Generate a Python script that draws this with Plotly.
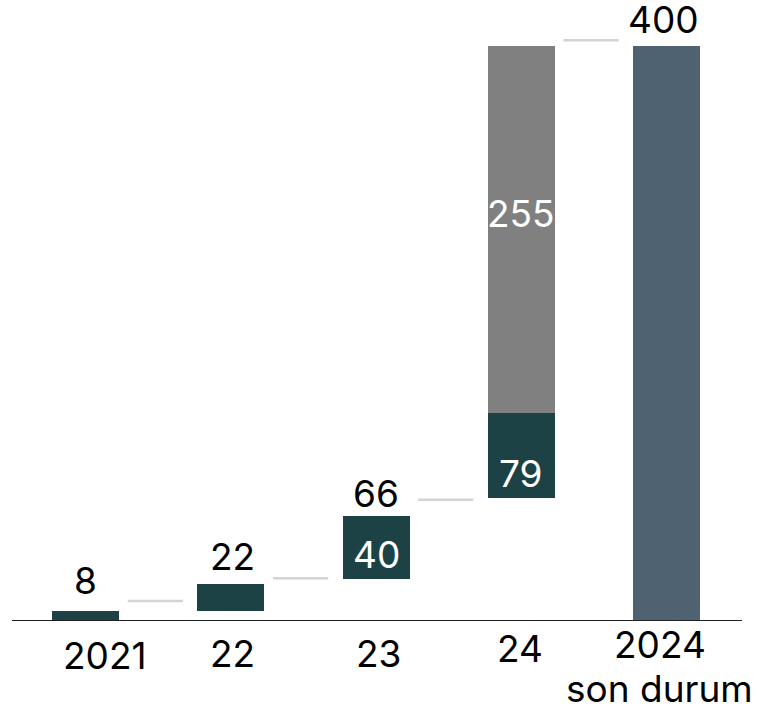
import plotly.graph_objects as go

# ---- data ----
categories = ["2021", "22", "23", "24", "2024<br>son durum"]

# bar segments (category index, start value, end value, kind)
seg_cat = [0, 1, 2, 3, 3, 4]
seg_start = [0, 7.2, 29.0, 85.7, 144.6, 0]
seg_end = [7.2, 25.7, 73.0, 144.6, 400, 400]
seg_kind = ["step", "step", "step", "step", "extra", "total"]

# value labels above bars
top_label_cat = [0, 1, 2, 4]
top_label_text = ["8", "22", "66", "400"]

# value labels inside bars (segment index, text)
inner_label_seg = [2, 3, 4]
inner_label_text = ["40", "79", "255"]

# connector levels between consecutive bars
connector_levels = [13.9, 29.7, 84.3, 403.8]

# ---- styling ----
colors = {"step": "#1d4245", "extra": "#808080", "total": "#4f6272"}
FONT = "Inter, Roboto, sans-serif"
FS = 37
BAR_W = 0.46
LINE_GAP = 44
top_label_shift = [6, 3, -2, 2]
top_label_xshift = [0, 2, 0, -3]
inner_label_shift = [0, 0, 16]
cat_label_shift = [-10, -8, -8, -3, 1]
cat_label_xshift = [19, 2, 2, -1, -7]

fig = go.Figure()

fig.add_trace(go.Bar(
    x=seg_cat,
    y=[e - s for s, e in zip(seg_start, seg_end)],
    base=seg_start,
    width=BAR_W,
    marker=dict(color=[colors[k] for k in seg_kind], line=dict(width=0)),
    hoverinfo="skip",
    showlegend=False,
))

# connectors
for i, lvl in enumerate(connector_levels):
    fig.add_trace(go.Scatter(
        x=[i + 0.29, i + 0.67], y=[lvl, lvl], mode="lines",
        line=dict(color="#d3d3d3", width=2.5),
        hoverinfo="skip", showlegend=False,
    ))

annotations = []
# labels above bars
for c, t, sh, xs in zip(top_label_cat, top_label_text, top_label_shift, top_label_xshift):
    top = max(e for cc, e in zip(seg_cat, seg_end) if cc == c)
    annotations.append(dict(x=c, y=top, text=t, showarrow=False,
                            xanchor="center", yanchor="bottom", yshift=sh, xshift=xs,
                            font=dict(family=FONT, size=FS, color="#000000")))
# labels inside bars
for s, t, sh in zip(inner_label_seg, inner_label_text, inner_label_shift):
    if seg_kind[s] == "extra":
        y = (seg_start[s] + seg_end[s]) / 2
        ya = "middle"
    else:
        y = seg_start[s]
        ya = "bottom"
    annotations.append(dict(x=seg_cat[s], y=y, text=t, showarrow=False,
                            xanchor="center", yanchor=ya, yshift=sh,
                            font=dict(family=FONT, size=FS, color="#ffffff")))
# category labels (multi-line labels drawn line by line for tighter spacing)
for i, (cat, sh, xs) in enumerate(zip(categories, cat_label_shift, cat_label_xshift)):
    for j, line in enumerate(cat.split("<br>")):
        annotations.append(dict(x=i, y=0, text=line, showarrow=False,
                                xanchor="center", yanchor="top",
                                yshift=sh - j * LINE_GAP, xshift=xs,
                                font=dict(family=FONT, size=FS, color="#000000")))

fig.update_layout(
    width=757, height=706,
    margin=dict(l=12, r=15, t=17, b=85),
    paper_bgcolor="white", plot_bgcolor="white",
    bargap=0,
    annotations=annotations,
    xaxis=dict(range=[-0.507, 4.519], showticklabels=False, showgrid=False,
               zeroline=False, showline=False, fixedrange=True),
    yaxis=dict(range=[0, 420], showticklabels=False, showgrid=False,
               zeroline=False, showline=False, fixedrange=True),
    shapes=[dict(type="line", xref="paper", yref="y", x0=0, x1=1, y0=0, y1=0,
                 line=dict(color="#222222", width=2))],
)

fig.write_html(
    "out.html",
    config={"displayModeBar": False, "staticPlot": True},
    post_script="document.body.style.margin='0';document.body.style.overflow='hidden';",
)
